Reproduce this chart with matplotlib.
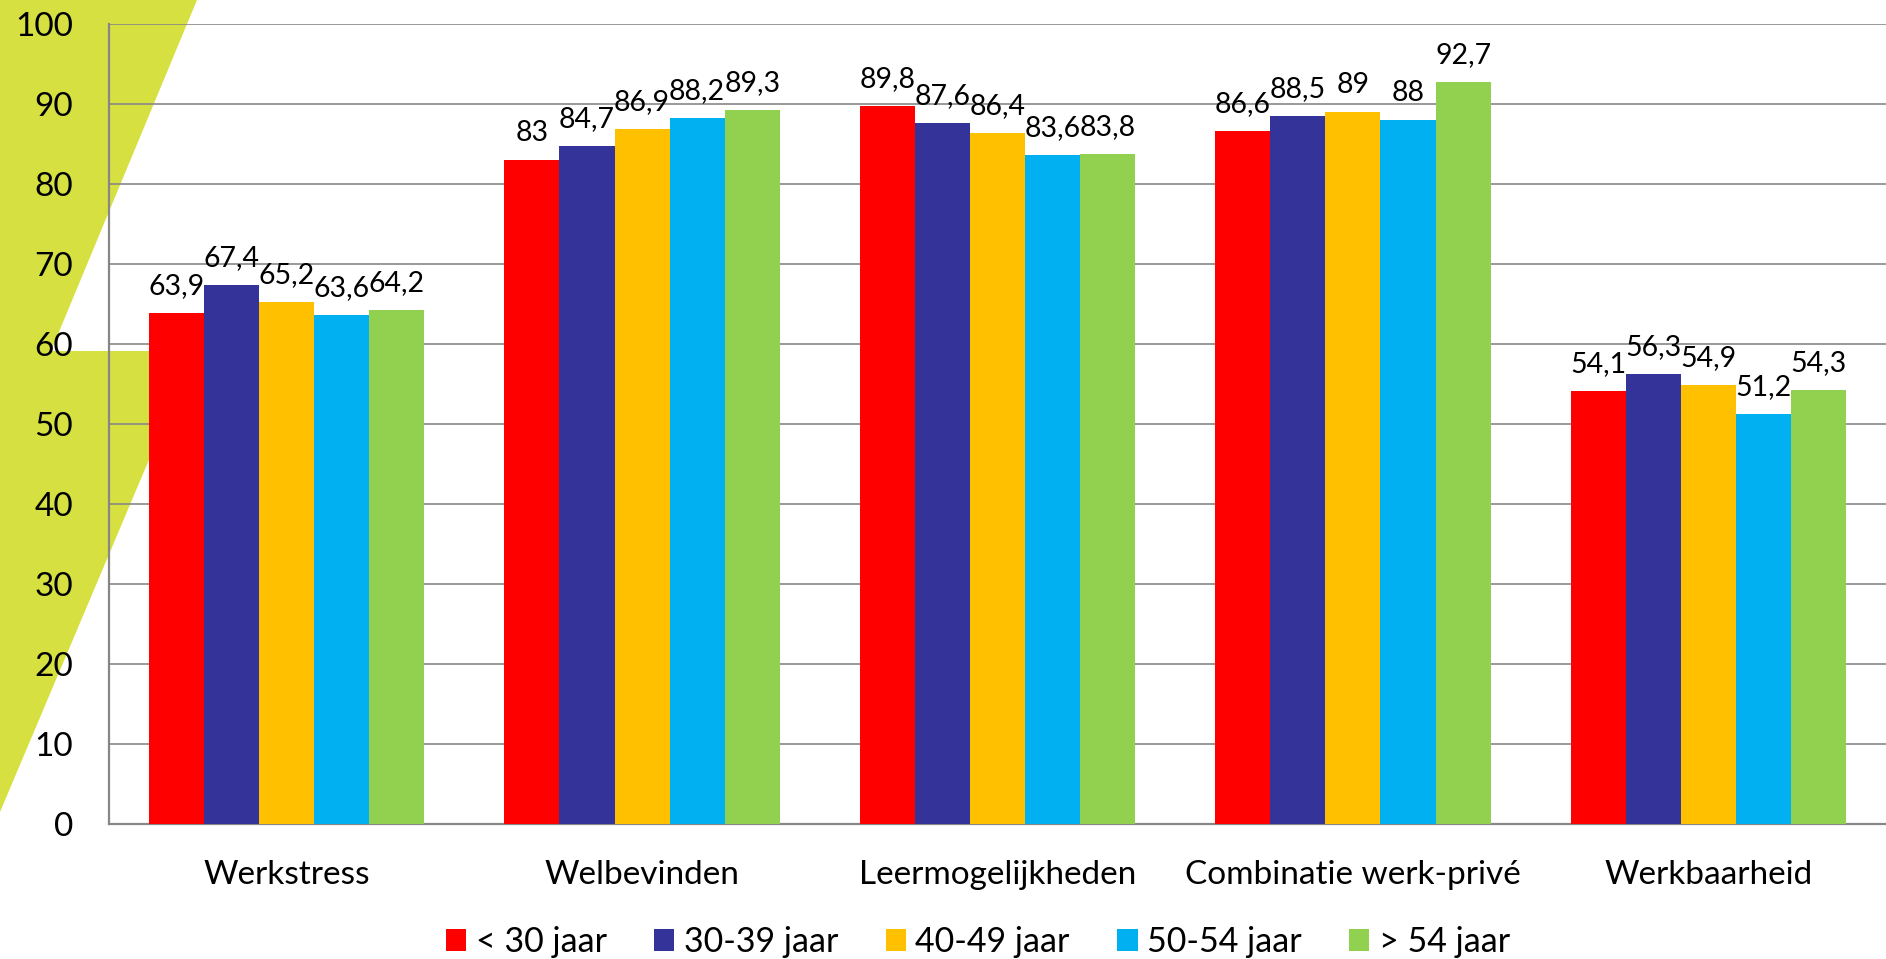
import numpy as np
import matplotlib.pyplot as plt
from matplotlib.patches import Polygon

plt.rcParams['font.family'] = ['Lato', 'DejaVu Sans']

categories = ['Werkstress', 'Welbevinden', 'Leermogelijkheden', 'Combinatie werk-privé', 'Werkbaarheid']
groups = ['< 30 jaar', '30-39 jaar', '40-49 jaar', '50-54 jaar', '> 54 jaar']
values = [
    [63.9, 83.0, 89.8, 86.6, 54.1],
    [67.4, 84.7, 87.6, 88.5, 56.3],
    [65.2, 86.9, 86.4, 89.0, 54.9],
    [63.6, 88.2, 83.6, 88.0, 51.2],
    [64.2, 89.3, 83.8, 92.7, 54.3],
]
colors = ['#ff0000', '#333399', '#ffc000', '#00b0f0', '#92d050']
yticks = [0, 10, 20, 30, 40, 50, 60, 70, 80, 90, 100]

W, H = 1886, 959
fig = plt.figure(figsize=(W / 100, H / 100), dpi=100)
fig.patch.set_facecolor('white')

# decorative green shape behind the chart (pixel coords, y from top)
deco = [(0, 0), (197, 0), (51, 351), (195, 351), (0, 812)]
deco = [(x / W, 1 - y / H) for x, y in deco]
fig.patches.append(Polygon(deco, closed=True, transform=fig.transFigure,
                           facecolor='#d6e040', edgecolor='none', zorder=0))

ax = fig.add_axes([109 / W, 1 - 824 / H, 1 - 109 / W, (824 - 24) / H])
ax.set_facecolor('none')
ax.set_zorder(2)

x = np.arange(len(categories))
width = 0.155
for i, (g, vals, c) in enumerate(zip(groups, values, colors)):
    bars = ax.bar(x + (i - 2) * width, vals, width, color=c, label=g, zorder=3)
    labels = [('%g' % v).replace('.', ',') for v in vals]
    ax.bar_label(bars, labels=labels, padding=10, fontsize=20.5, color='black')

ax.set_xlim(-0.5, len(categories) - 0.5)
ax.set_ylim(0, 100)
ax.set_yticks(yticks)
ax.set_xticks(x)
ax.set_xticklabels(categories)
ax.tick_params(axis='y', length=0, pad=26, labelsize=24)
ax.tick_params(axis='x', length=0, pad=26, labelsize=24)
ax.grid(axis='y', color='#878787', linewidth=1.2, zorder=1)
ax.set_axisbelow(True)
for s in ['top', 'right']:
    ax.spines[s].set_visible(False)
for s in ['left', 'bottom']:
    ax.spines[s].set_color('#878787')
    ax.spines[s].set_linewidth(1.6)

fig.legend(loc='center left', bbox_to_anchor=(446 / W, 1 - 942 / H), ncol=5,
           frameon=False, fontsize=24.5, handlelength=0.59, handleheight=0.59,
           handletextpad=0.28, columnspacing=1.4, borderpad=0, borderaxespad=0)

fig.savefig('out.png', dpi=100)
